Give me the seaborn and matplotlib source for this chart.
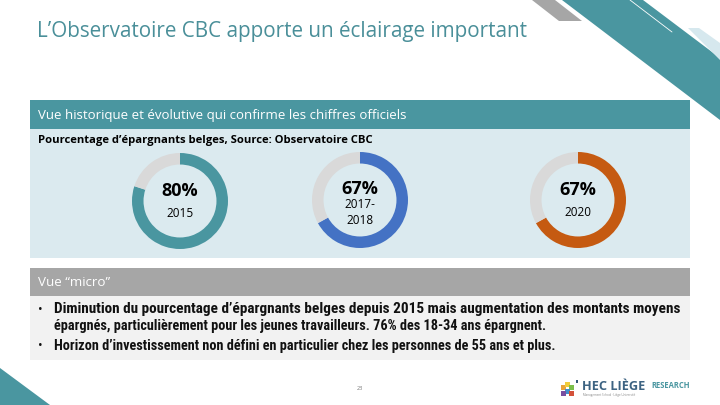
import matplotlib
matplotlib.use("Agg")
import matplotlib.pyplot as plt
from matplotlib import font_manager
from matplotlib.patches import Polygon, Rectangle
import seaborn as sns

# ---------------- data ----------------
years = ["2015", "2017-\n2018", "2020"]
savers_pct = [80, 67, 67]
ring_colors = ["#4a96a0", "#4472c4", "#c55a11"]
rest_color = "#d9d9d9"

title = "L\u2019Observatoire CBC apporte un éclairage important"
header1 = "Vue historique et évolutive qui confirme les chiffres officiels"
subtitle = "Pourcentage d\u2019épargnants belges, Source: Observatoire CBC"
header2 = "Vue \u201cmicro\u201d"
bullet_lines = [
    "Diminution du pourcentage d\u2019épargnants belges depuis 2015 mais augmentation des montants moyens",
    "épargnés, particulièrement pour les jeunes travailleurs. 76% des 18-34 ans épargnent.",
    "Horizon d\u2019investissement non défini en particulier chez les personnes de 55 ans et plus.",
]
page_no = "23"

# ---------------- style ----------------
sns.set_theme(style="white")
avail = {f.name for f in font_manager.fontManager.ttflist}
def pick(*names):
    for n in names:
        if n in avail:
            return n
    return "DejaVu Sans"
F_TITLE = pick("Open Sans", "Lato", "DejaVu Sans")
F_BODY = pick("Open Sans", "Lato", "DejaVu Sans")
F_NARROW = pick("Liberation Sans Narrow", "Roboto Condensed", "Roboto", "Lato")
plt.rcParams["font.family"] = [F_BODY, "DejaVu Sans"]

W, H = 720, 405
fig = plt.figure(figsize=(7.2, 4.05), dpi=100)
bg = fig.add_axes([0, 0, 1, 1])
bg.set_xlim(0, W)
bg.set_ylim(H, 0)
bg.axis("off")

TEAL = "#4a96a0"

# decorative shapes
bg.add_patch(Polygon([(532, 0), (555, 0), (582, 21), (559, 21)], closed=True, color="#a6a6a6", lw=0))
bg.add_patch(Polygon([(562, 0), (643, 0), (720, 58), (720, 120)], closed=True, color=TEAL, lw=0))
bg.add_patch(Polygon([(688, 28), (699, 28), (720, 43), (720, 60)], closed=True, color="#d6e8ee", lw=0))
bg.plot([630, 672], [0, 32], color="white", lw=0.6)
bg.add_patch(Polygon([(0, 368), (50, 405), (0, 405)], closed=True, color=TEAL, lw=0))

bg.add_patch(Rectangle((30, 100), 660, 29, color=TEAL, lw=0))
bg.add_patch(Rectangle((30, 129), 660, 129, color="#dbeaef", lw=0))
bg.add_patch(Rectangle((30, 268), 660, 28, color="#a6a6a6", lw=0))
bg.add_patch(Rectangle((30, 296), 660, 64, color="#f2f2f2", lw=0))

renderer = fig.canvas.get_renderer()
def fit(t, target_w):
    bb = t.get_window_extent(renderer)
    t.set_fontsize(t.get_fontsize() * target_w / bb.width)
    return t

fit(bg.text(37, 32, title, color="#4a8f99", fontsize=15, va="center", ha="left",
            family=[F_TITLE, "DejaVu Sans"]), 491)
fit(bg.text(38, 115, header1, color="white", fontsize=9, va="center", ha="left"), 372)
fit(bg.text(38, 140, subtitle, color="black", fontsize=8, va="center", ha="left",
            fontweight="bold"), 337)
fit(bg.text(38, 283, header2, color="white", fontsize=9, va="center", ha="left"), 73)

line_y = [309, 326, 346]
line_w = [627, 495, 501]
for y, txt, w in zip(line_y, bullet_lines, line_w):
    fit(bg.text(54, y, txt, color="#111111", fontsize=9, va="center", ha="left",
                fontweight="bold", family=[F_NARROW, "DejaVu Sans"]), w)
for y in (line_y[0], line_y[2]):
    bg.text(40, y, "\u2022", color="#111111", fontsize=9, va="center", ha="center")

bg.text(360, 388, page_no, color="#777777", fontsize=4, va="center", ha="center")

# logo
logo_cols = ["#e8a33c", "#f1cd3b", "#7cbf4b", "#3f8fcd", "#7a4fa0", "#d4513a"]
for i, (dx, dy) in enumerate([(0, 6), (4, 3), (8, 6), (4, 10), (0, 12), (8, 12)]):
    bg.add_patch(Rectangle((561 + dx, 379 + dy), 5, 5, color=logo_cols[i], lw=0))
bg.add_patch(Rectangle((576, 380), 2, 3, color="#35587a", lw=0))
fit(bg.text(582, 386, "HEC LIÈGE", color="#3d6382", fontsize=9, fontweight="bold",
            va="center", ha="left"), 63)
fit(bg.text(651, 386, "RESEARCH", color=TEAL, fontsize=5, fontweight="bold",
            va="center", ha="left"), 39)
bg.text(583, 395, "Management School · Liège Université", color="#8a8a8a",
        fontsize=2.2, va="center", ha="left")

# ---------------- donuts ----------------
centers = [(180, 201), (360, 200), (578, 200)]
R = 48
for (cx, cy), pct, col, yr in zip(centers, savers_pct, ring_colors, years):
    ax = fig.add_axes([(cx - R) / W, 1 - (cy + R) / H, 2 * R / W, 2 * R / H])
    ax.pie([pct, 100 - pct], colors=[col, rest_color], startangle=90,
           counterclock=False, radius=1.0,
           wedgeprops=dict(width=0.24, edgecolor="none"))
    ax.set_xlim(-1, 1)
    ax.set_ylim(-1, 1)
    ax.set_aspect("equal")
    ax.axis("off")
    ax.patch.set_alpha(0)
    if "\n" in yr:
        ax.text(0, 0.23, f"{pct}%", ha="center", va="center", fontsize=13,
                fontweight="bold", color="black")
        ax.text(0, -0.1, yr.split("\n")[0], ha="center", va="center", fontsize=8.5, color="black")
        ax.text(0, -0.42, yr.split("\n")[1], ha="center", va="center", fontsize=8.5, color="black")
    else:
        ax.text(0, 0.2, f"{pct}%", ha="center", va="center", fontsize=13,
                fontweight="bold", color="black")
        ax.text(0, -0.27, yr, ha="center", va="center", fontsize=8.5, color="black")

fig.savefig("out.png", dpi=100)
